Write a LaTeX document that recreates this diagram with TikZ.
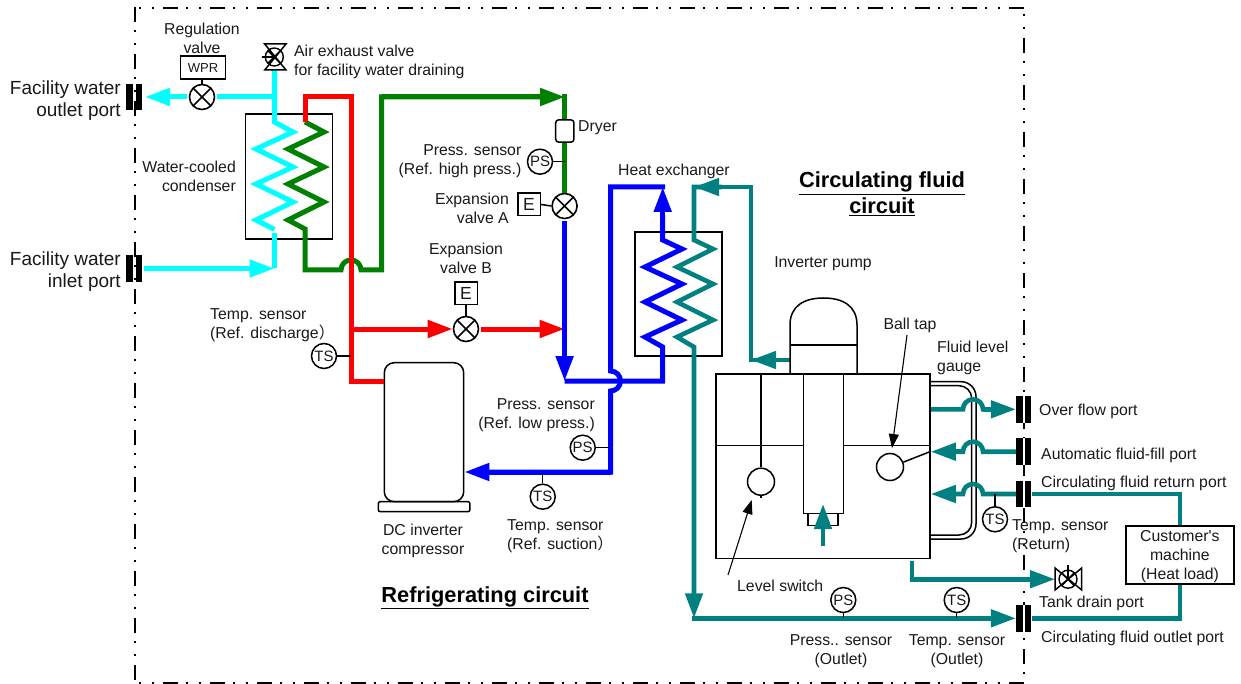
\documentclass[tikz,border=0pt]{standalone}
\usepackage{fontspec}
\setmainfont{Liberation Sans}
\newfontfamily\cjk{Noto Sans CJK SC}
\newfontfamily\plainf{Liberation Sans}
\usetikzlibrary{arrows.meta}
\definecolor{cyanpipe}{RGB}{0,255,255}
\definecolor{greenpipe}{RGB}{0,128,0}
\definecolor{redpipe}{RGB}{255,0,0}
\definecolor{bluepipe}{RGB}{0,0,255}
\definecolor{tealpipe}{RGB}{0,128,128}
\tikzset{
  lbl/.style={inner sep=0pt,font=\fontsize{15.8}{19}\selectfont,text=black!90},
  lblL/.style={lbl,anchor=west,align=left},
  lblR/.style={lbl,anchor=east,align=right},
  lblC/.style={lbl,anchor=center,align=center},
  bigl/.style={inner sep=0pt,font=\fontsize{19}{22}\selectfont,text=black!90,anchor=east,align=right},
  titl/.style={inner sep=0pt,font=\fontsize{21.8}{26}\selectfont\bfseries,anchor=center,align=center},
  pipe/.style={line width=5pt,miter limit=10},
  cy/.style={pipe,draw=cyanpipe},
  gr/.style={pipe,draw=greenpipe},
  rd/.style={pipe,draw=redpipe},
  bl/.style={pipe,draw=bluepipe},
  te/.style={line width=4.6pt,draw=tealpipe},
  tip/.style={-{Triangle[length=25pt,width=17pt]}},
  thin line/.style={draw=black,line width=1.5pt},
  sensor/.style={circle,draw=black,line width=1.5pt,fill=white,minimum size=25pt,inner sep=0pt,font=\fontsize{15}{15}\selectfont,text=black!90},
  xvalve/.style={circle,draw=black,line width=1.6pt,fill=white,minimum size=25pt,inner sep=0pt,
    path picture={\draw[line width=1.6pt] (path picture bounding box.north west)--(path picture bounding box.south east)
      (path picture bounding box.north east)--(path picture bounding box.south west);}},
  xsmall/.style={xvalve,minimum size=18pt,line width=1.4pt},
  ebox/.style={rectangle,draw=black,line width=1.5pt,fill=white,minimum width=22.5pt,minimum height=22.5pt,inner sep=0pt,font=\fontsize{17.5}{18}\selectfont,text=black!90},
  bar/.style={rectangle,fill=black,minimum width=6.8pt,minimum height=26.7pt,inner sep=0pt},
  gapmask/.style={rectangle,fill=white,minimum width=5pt,minimum height=26.7pt,inner sep=0pt},
  box/.style={rectangle,draw=black,line width=1.5pt,inner sep=0pt},
  frameline/.style={draw=black,line width=1.6pt,dash pattern=on 15pt off 8pt on 2pt off 11pt on 2pt off 9pt},
  ball/.style={circle,draw=black,line width=1.5pt,minimum size=27pt,inner sep=0pt},
  blk/.style={draw=black,line width=1.1pt,-{Triangle[length=14pt,width=10pt]}}
}
\begin{document}
\begin{tikzpicture}[x=1pt,y=-1pt]
\useasboundingbox (0,0) rectangle (1241,684);
% frame
\draw[frameline] (135,7) -- (135,684);
\draw[frameline,dash phase=19pt] (135,8) -- (1024,8);
\draw[frameline,dash phase=17pt] (1024,8) -- (1024,684);
\draw[frameline,dash phase=19pt] (135,683) -- (1024,683);

% equipment boxes
\node[box,minimum width=87pt,minimum height=125pt] (cond) at (289,176.5) {};
\node[box,minimum width=87pt,minimum height=124pt] (hx) at (678.5,294) {};
\node[box,minimum width=214pt,minimum height=184.7pt] (tank) at (823,466.3) {};
\node[box,rounded corners=10pt,minimum width=79.4pt,minimum height=139pt] (comp) at (424,432.2) {};
\node[box,rounded corners=2pt,minimum width=91.7pt,minimum height=10pt] (compbase) at (424.1,506.7) {};

% ports
\node[gapmask] (gf) at (1023.7,409.3) {};
\node[gapmask] (ga) at (1023.7,451.7) {};
\node[gapmask] (gr) at (1023.7,494) {};
\node[gapmask] (gu) at (1023.7,618.3) {};
\node[bar] (oa) at (129.5,97) {}; \node[bar] (ob) at (139,97) {};
\node[bar] (ia) at (129.5,268.5) {}; \node[bar] (ib) at (139,268.5) {};
\node[bar] (fa) at (1019.5,409.3) {}; \node[bar] (fb) at (1028,409.3) {};
\node[bar] (aa) at (1019.5,451.7) {}; \node[bar] (ab) at (1028,451.7) {};
\node[bar] (ra) at (1019.5,494) {}; \node[bar] (rb) at (1028,494) {};
\node[bar] (ua) at (1019.5,618.3) {}; \node[bar] (ub) at (1028,618.3) {};

% valves and instruments
\node[xvalve] (wv) at (202,97) {};
\node[box,fill=white,minimum width=45.4pt,minimum height=23.3pt,font=\fontsize{13}{13}\selectfont,text=black!90] (wpr) at (203,67.6) {WPR};
\node[xvalve] (va) at (564.6,206) {};
\node[xvalve] (vb) at (466,329) {};
\node[ebox] (ea) at (529,204.5) {E};
\node[ebox] (eb) at (466,293.5) {E};
\node[sensor] (pshigh) at (540,161.7) {PS};
\node[sensor] (tsdis) at (324,356) {TS};
\node[sensor] (pslow) at (582.7,447.7) {PS};
\node[sensor] (tssuc) at (542.7,496.7) {TS};
\node[sensor] (tsret) at (995,519.3) {TS};
\node[sensor] (psout) at (843.3,600) {PS};
\node[sensor] (tsout) at (956.7,600) {TS};

% pipe coordinates
\coordinate (cyT) at (274.5,97);
\coordinate (cyTop) at (274.5,70);
\coordinate (cyIn) at (274.5,268.5);
\coordinate (outTip) at (145,97);
\coordinate (inSt) at (144,268.5);
\coordinate (rdB) at (351,329);
\coordinate (rdC) at (351,381);
\coordinate (blJ) at (564.6,381);
\coordinate (rdTip) at (blJ |- vb);
\coordinate (teJ) at (694,618.3);
\coordinate (teTop) at (694,187);

% cyan
\draw[cy,shorten <=1.5pt] (wv.east) -- (cyT);
\draw[cy] (cyTop) -- (274.5,122) -- (293,132) -- (256,149) -- (293,167) -- (256,184) -- (293,202) -- (256,220) -- (274.5,229.5);
\draw[cy,tip,shorten <=1.5pt] (wv.west) -- (outTip);
\draw[cy] (274.5,233) -- (cyIn);
\draw[cy,tip] (inSt) -- (cyIn);
% green
\draw[gr] (305,122) -- (324,132) -- (288,149) -- (324,167) -- (288,184) -- (324,202) -- (288,220) -- (305,229)
  -- (305,270) -- (341,270) arc[start angle=180,end angle=0,radius=10pt] -- (381.5,270) -- (381.5,97) -- (540,97);
\draw[gr,tip] (381.5,97) -- (565,97);
\draw[gr] (564.6,94.5) -- (va.north);
% red
\draw[rd] (305,122.5) -- (305,97) -- (351,97) -- (rdC) -- (comp.west |- rdC);
\draw[rd,tip] (rdB) -- (vb.west);
\draw[rd,tip,shorten <=1.5pt] (vb.east) -- (rdTip);
% blue
\draw[bl,tip,shorten <=1.5pt] (va.south) -- (blJ);
\draw[bl] (blJ) -- (662.7,381) -- (662.7,347) -- (645,337) -- (682,320) -- (645,302) -- (682,284) -- (645,267) -- (682,249) -- (662.7,240) -- (662.7,215);
\draw[bl,tip] (662.7,240) -- (662.7,187);
\draw[bl] (665.2,187) -- (610.5,187) -- (610.5,371) arc[start angle=90,end angle=-90,radius=10pt] -- (610.5,472) -- (480,472);
\draw[bl,tip] (610.5,472) -- (comp.east |- 610.5,472);
% teal coil and pump line
\draw[te] (694,600) -- (694,347) -- (677,337) -- (713,320) -- (677,302) -- (713,284) -- (677,267) -- (713,249) -- (694,240) -- (teTop) -- (722,187);
\draw[te,tip] (694,500) -- (teJ);
\draw[te,tip] (751,187) -- (teTop);
\draw[te] (748.7,187) -- (751,187) -- (751,360) -- (770,360);
\draw[te,tip] (790,360) -- (751,360);
\draw[te,tip] (692,618.3) -- (ua.west);
% level gauge
\draw[thin line] (tank.east |- 0,381.7) -- (961,381.7) arc[start angle=90,end angle=0,radius=15pt] -- (976,524) arc[start angle=0,end angle=-90,radius=15pt] -- (tank.east |- 0,539);
\draw[thin line] (tank.east |- 0,385.7) -- (959,385.7) arc[start angle=90,end angle=0,radius=12.7pt] -- (971.7,522.3) arc[start angle=0,end angle=-90,radius=12.7pt] -- (tank.east |- 0,535);
% tank connections
\draw[te] (tank.east |- 0,409.3) -- (963,409.3) arc[start angle=180,end angle=0,radius=10pt] -- (995,409.3);
\draw[te,tip] (983,409.3) -- (fa.west);
\draw[te] (aa.west) -- (983,451.7) arc[start angle=0,end angle=180,radius=10pt] -- (950,451.7);
\draw[te,tip] (963,451.7) -- (tank.east |- 0,451.7);
\draw[te] (ra.west) -- (983,494) arc[start angle=0,end angle=180,radius=10pt] -- (950,494);
\draw[te,tip] (963,494) -- (tank.east |- 0,494);
\node[box,fill=white,minimum width=108.3pt,minimum height=57.7pt,font=\fontsize{15.8}{19}\selectfont,align=center,text=black!90] (mach) at (1179.9,554.9) {\rule{0pt}{15pt}Customer{\plainf '}s\\machine\\(Heat load)};
\draw[te] (rb.east) -- (1179.9,494) -- (mach.north);
\draw[te] (mach.south) -- (1179.9,618.3) -- (ub.east);
\draw[te] (912,560.7) -- (912,579.2) -- (1035,579.2);
\node[xsmall] (drain) at (1068,579.2) {};
\draw[te,tip] (912,579.2) -- (1055,579.2);
% drain valve
\draw[thin line] (1055,568) -- (1055,590) -- (1081.7,568) -- (1081.7,590) -- cycle;
\draw[thin line] (drain.center) -- (1068,565);
% air exhaust valve
\node[xsmall] (air) at (274.3,57) {};
\draw[thin line] (264.7,44) -- (286,44) -- (264.7,70) -- (286,70) -- cycle;
\draw[thin line] (261.7,57) -- (air.center);
% dryer
\node[box,fill=white,rounded corners=3pt,minimum width=18.3pt,minimum height=22.3pt] (dry) at (564.8,131) {};
% tank internals
\draw[thin line,line width=1.2pt] (tank.west |- 0,445.3) -- (803.5,445.3);
\draw[thin line,line width=1.2pt] (843.7,445.3) -- (tank.east |- 0,445.3);
\draw[thin line] (803.5,374) -- (803.5,513.7) -- (843.7,513.7) -- (843.7,374);
\draw[thin line] (808,513.7) -- (808,525.7) -- (838,525.7) -- (838,513.7);
\draw[te,tip] (823,545.7) -- (823,504);
% pump
\draw[thin line] (790,374) -- (790,325) .. controls (790,306) and (804,298) .. (823.5,298) .. controls (843,298) and (857,306) .. (857,325) -- (857,374);
\draw[thin line] (790,345) -- (857,345);
% level switch
\node[ball] (sw) at (761,481.7) {};
\draw[thin line] (761,374) -- (sw.north);
\draw[thin line] (sw.south) -- (761,498);
\node[ball] (tap) at (890,467) {};
\draw[thin line] (tap.20) -- (930,451.7);
% leader arrows
\coordinate (swl) at (728,575);
\coordinate (swt) at (751.7,500);
\coordinate (tapl) at (907,335);
\coordinate (tapt) at (892,448);
\draw[blk] (swl) -- (swt);
\draw[blk] (tapl) -- (tapt);
% instrument stubs
\draw[thin line] (wpr.south -| wv) -- (wv.north);
\draw[thin line] (ea.east) -- (va.west);
\draw[thin line] (eb.south) -- (vb.north);
\draw[thin line] (pshigh.east) -- (564.6,161.7);
\draw[thin line] (tsdis.east) -- (351,356);
\draw[thin line] (pslow.east) -- (610,447.7);
\draw[thin line] (tssuc.north) -- (542.7,472);
\draw[thin line] (tsret.north) -- (995,494);
\draw[thin line] (psout.south) -- (843.3,618);
\draw[thin line] (tsout.south) -- (956.7,618);

% labels
\node[lblC] (l1) at (202,38.5) {Regulation\\valve};
\node[lblL] (l2) at (294,61.5) {Air exhaust valve\\for facility water draining};
\node[bigl] (l3) at (121,101) {Facility water\\outlet port};
\node[bigl] (l4) at (121,272) {Facility water\\inlet port};
\node[lblR] (l5) at (236,176.5) {Water-cooled\\condenser};
\node[lblL] (l6) at (210,325.5) {Temp. sensor\\(Ref. discharge{\cjk ）}};
\node[lblR] (l7) at (521.5,161.5) {Press. sensor\\(Ref. high press.)};
\node[lblL] (l8) at (578,128) {Dryer};
\node[lblR] (l9) at (509,208.5) {Expansion\\valve A};
\node[lblC] (l10) at (466,258.5) {Expansion\\valve B};
\node[lblC] (l11) at (674,171) {Heat exchanger};
\node[titl] (l12) at (882,194) {\underline{Circulating fluid}\\\underline{circuit}};
\node[lblC] (l13) at (823,264) {Inverter pump};
\node[lblC] (l14) at (910,325) {Ball tap};
\node[lblL] (l15) at (937,357.5) {Fluid level\\gauge};
\node[lblL] (l16) at (1039,411) {Over flow port};
\node[lblL] (l17) at (1041,455) {Automatic fluid-fill port};
\node[lblL] (l18) at (1041,483) {Circulating fluid return port};
\node[lblL] (l19) at (1012,536.5) {Temp. sensor\\(Return)};
\node[lblL] (l20) at (1039,603) {Tank drain port};
\node[lblL] (l21) at (1041,638) {Circulating fluid outlet port};
\node[lblC] (l22) at (841,651.5) {Press.. sensor\\(Outlet)};
\node[lblC] (l23) at (957,651.5) {Temp. sensor\\(Outlet)};
\node[lblL] (l24) at (737,586) {Level switch};
\node[lblC] (l25) at (423,540.5) {DC inverter\\compressor};
\node[lblL] (l26) at (507,536.5) {Temp. sensor\\(Ref. suction{\cjk ）}};
\node[lblR] (l27) at (595,415.5) {Press. sensor\\(Ref. low press.)};
\node[titl] (l28) at (485,598) {\underline{Refrigerating circuit}};
\end{tikzpicture}
\end{document}
